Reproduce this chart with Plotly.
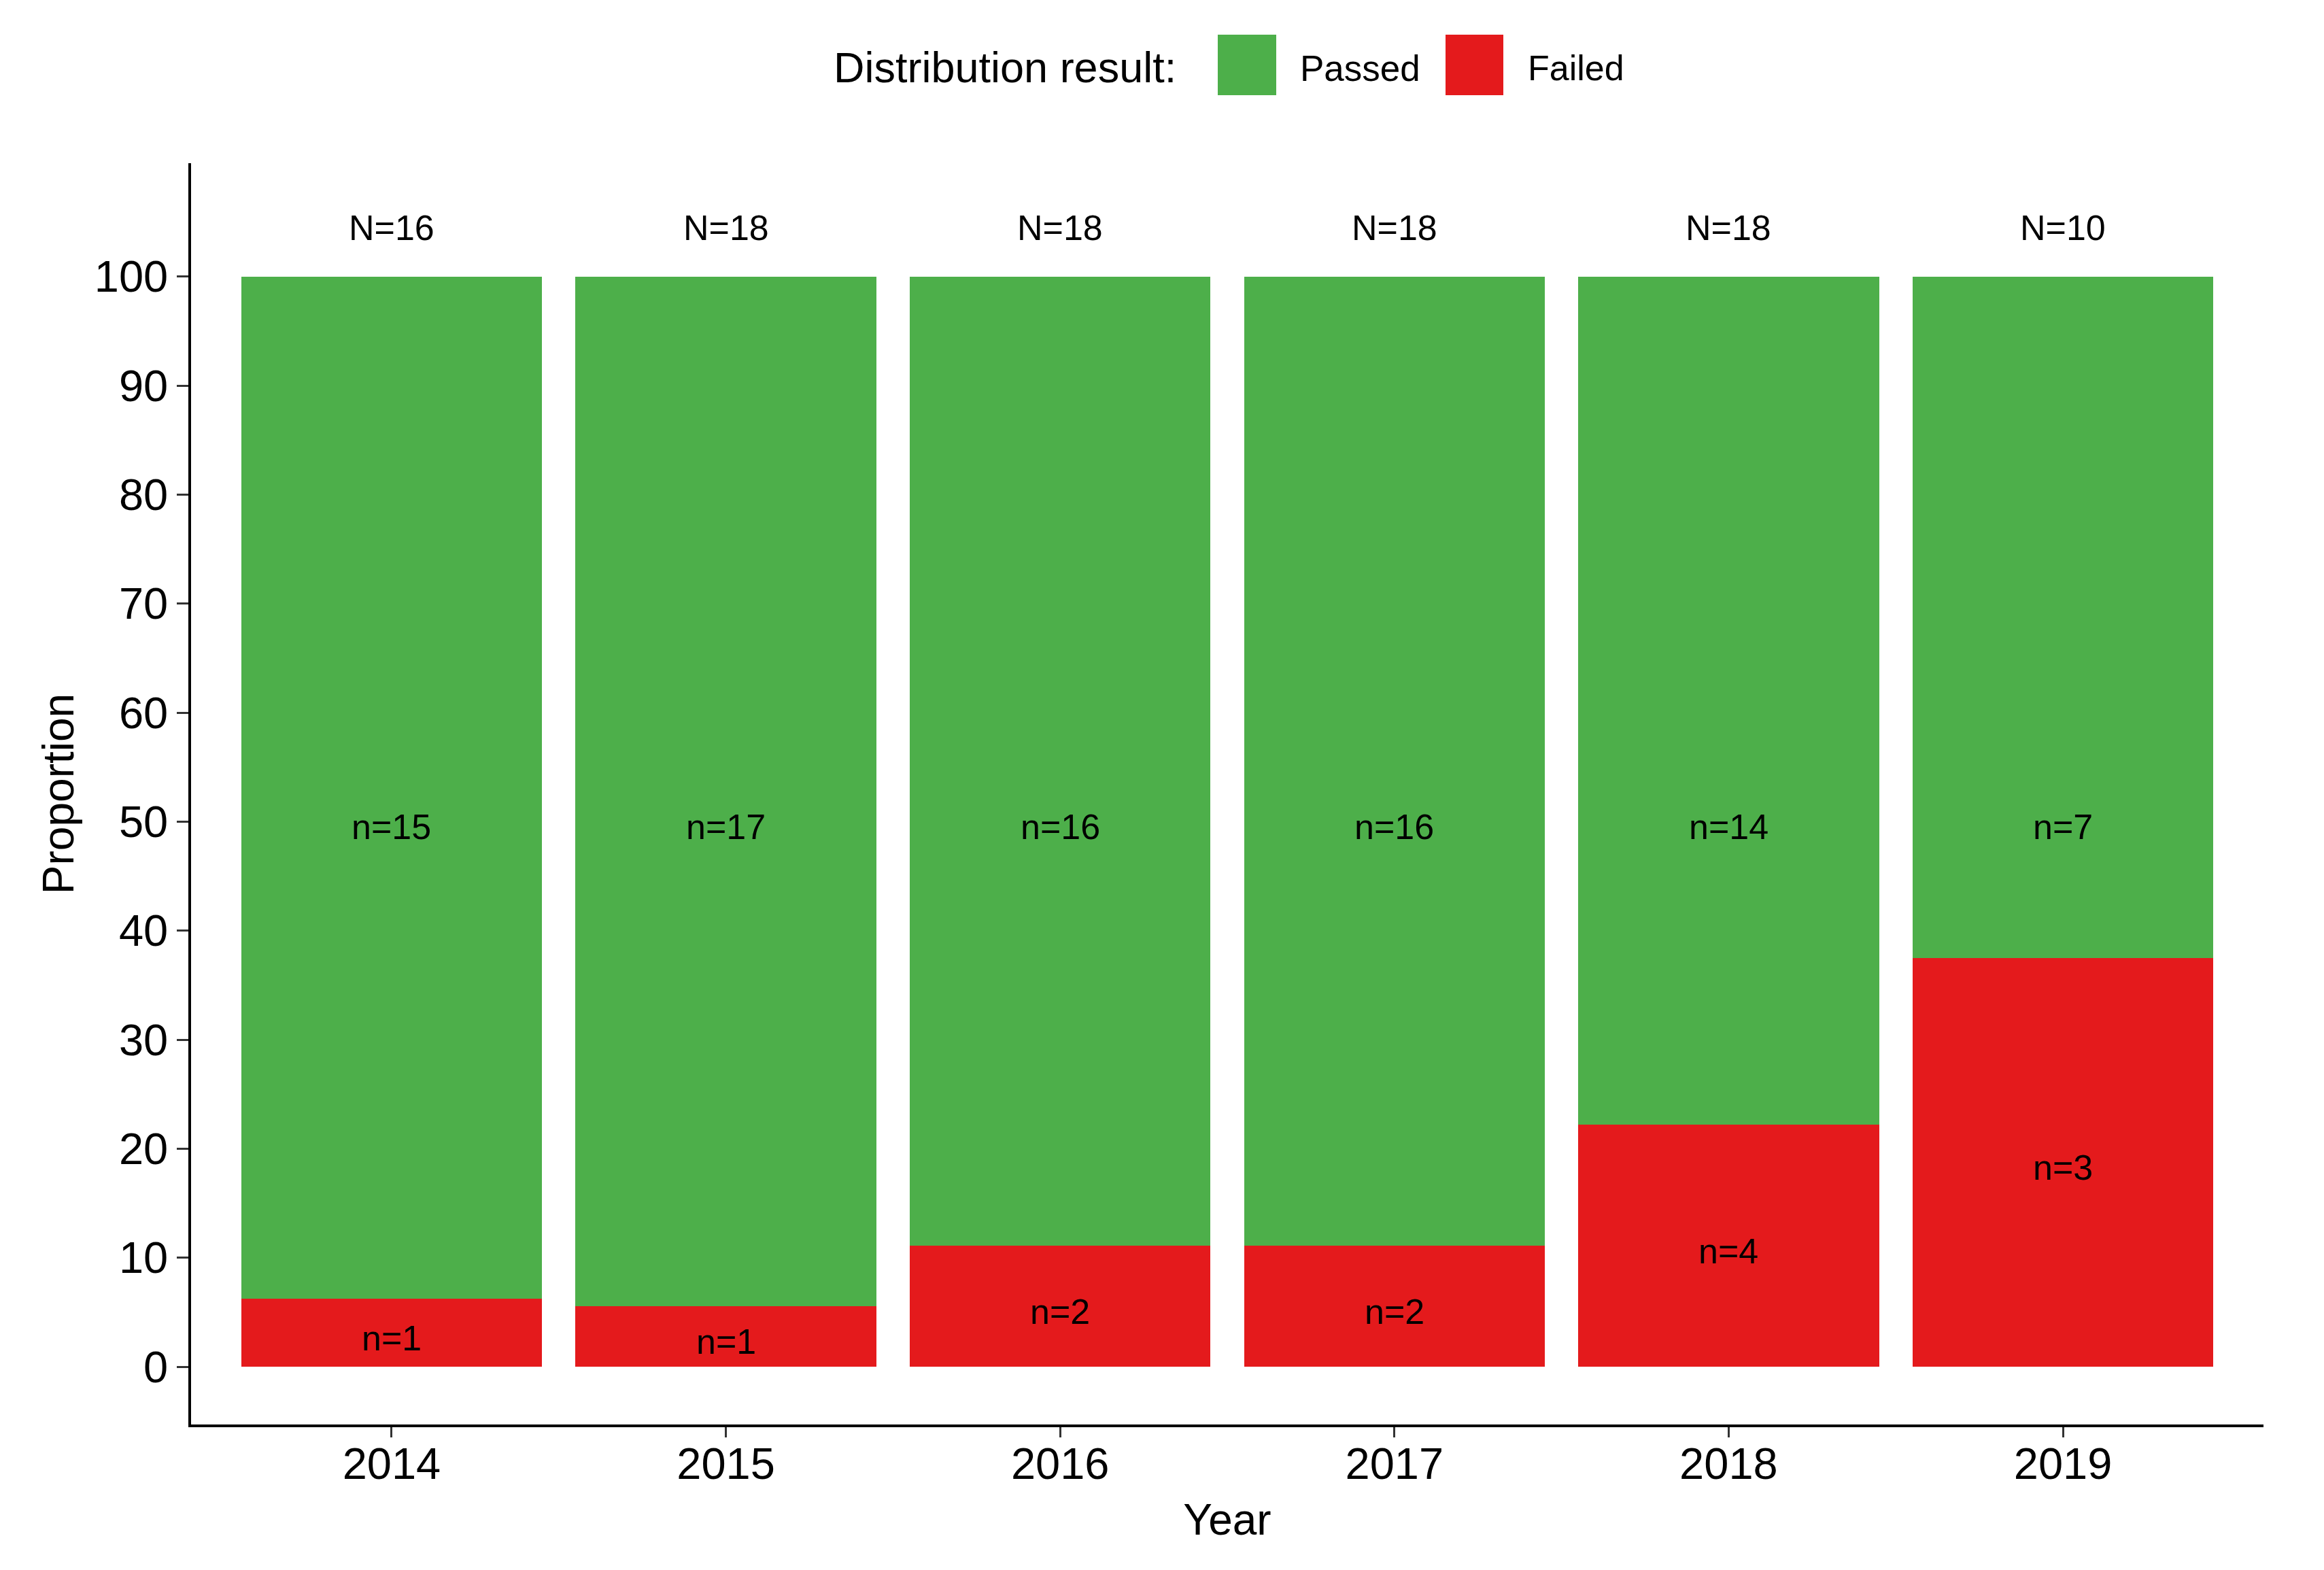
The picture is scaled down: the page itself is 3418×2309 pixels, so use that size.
import plotly.graph_objects as go

# ---- data ----
years = ["2014", "2015", "2016", "2017", "2018", "2019"]
passed_pct = [93.75, 94.44, 88.89, 88.89, 77.78, 62.5]
failed_pct = [6.25, 5.56, 11.11, 11.11, 22.22, 37.5]
n_passed = [15, 17, 16, 16, 14, 7]
n_failed = [1, 1, 2, 2, 4, 3]
n_total = [16, 18, 18, 18, 18, 10]
y_ticks = [0, 10, 20, 30, 40, 50, 60, 70, 80, 90, 100]
label_y_passed = 50
label_y_total = 105

GREEN = "#4DAF4A"
RED = "#E41A1C"
FONT = "Liberation Sans, Arial, sans-serif"

# page body has an 8px margin, so the figure is drawn 8px in from the window edge
OFF = 8
W, H = 3418 - 2 * OFF, 2309 - 2 * OFF
PLOT_X0, PLOT_X1 = 281, 3329      # absolute window pixels of plot area
PLOT_Y0, PLOT_Y1 = 240, 2095
L = PLOT_X0 - OFF
T = PLOT_Y0 - OFF
PW = PLOT_X1 - PLOT_X0
PH = PLOT_Y1 - PLOT_Y0
R = W - L - PW
B = H - T - PH


def px_x(px):
    return (px - PLOT_X0) / PW


def px_y(py):
    return (PLOT_Y1 - py) / PH


fig = go.Figure()
fig.add_trace(go.Bar(x=years, y=failed_pct, name="Failed", marker=dict(color=RED, line=dict(width=0)),
                     showlegend=False, hoverinfo="skip"))
fig.add_trace(go.Bar(x=years, y=passed_pct, name="Passed", marker=dict(color=GREEN, line=dict(width=0)),
                     showlegend=False, hoverinfo="skip"))

# count labels (annotations anchored at data positions; x = category index)
lab_font = dict(family=FONT, size=52, color="black")
for i, (f_pct, nf, npas, nt) in enumerate(zip(failed_pct, n_failed, n_passed, n_total)):
    for yv, txt in ((f_pct / 2, f"n={nf}"), (label_y_passed, f"n={npas}"), (label_y_total, f"N={nt}")):
        fig.add_annotation(x=i, y=yv, xref="x", yref="y", text=txt, showarrow=False,
                           xanchor="center", yanchor="middle", yshift=-8, font=lab_font)

fig.update_layout(
    width=W, height=H,
    margin=dict(l=L, r=R, t=T, b=B),
    paper_bgcolor="white", plot_bgcolor="white",
    barmode="stack", bargap=0.1,
    font=dict(family=FONT, color="black"),
    showlegend=False,
)
fig.update_xaxes(type="category", categoryorder="array", categoryarray=years, range=[-0.6, 5.6],
                 showline=True, linecolor="black", linewidth=3.5,
                 ticks="outside", ticklen=15, tickwidth=3, tickcolor="#333333", ticklabelstandoff=-17,
                 tickfont=dict(size=65, color="black", family=FONT), showgrid=False, zeroline=False,
                 title=dict(text="Year", font=dict(size=64, family=FONT, color="black"), standoff=25))
fig.update_yaxes(range=[-5.3, 110.4], tickvals=y_ticks, showline=True, linecolor="black", linewidth=3.5,
                 ticks="outside", ticklen=17, tickwidth=3, tickcolor="#333333",
                 tickfont=dict(size=65, color="black", family=FONT), showgrid=False, zeroline=False,
                 title=dict(text="Proportion", font=dict(size=64, family=FONT, color="black"), standoff=10))

# legend drawn manually (large keys)
fig.add_annotation(xref="paper", yref="paper", x=px_x(1224), y=px_y(99), xanchor="left", yanchor="middle",
                   text="Distribution result:", showarrow=False, font=dict(size=63, family=FONT, color="black"))
fig.add_shape(type="rect", xref="paper", yref="paper", x0=px_x(1791), x1=px_x(1877), y0=px_y(140), y1=px_y(51),
              fillcolor=GREEN, line=dict(width=0))
fig.add_annotation(xref="paper", yref="paper", x=px_x(1910), y=px_y(100), xanchor="left", yanchor="middle",
                   text="Passed", showarrow=False, font=dict(size=53, family=FONT, color="black"))
fig.add_shape(type="rect", xref="paper", yref="paper", x0=px_x(2126), x1=px_x(2211), y0=px_y(140), y1=px_y(51),
              fillcolor=RED, line=dict(width=0))
fig.add_annotation(xref="paper", yref="paper", x=px_x(2245), y=px_y(100), xanchor="left", yanchor="middle",
                   text="Failed", showarrow=False, font=dict(size=52, family=FONT, color="black"))

fig.write_html("out.html")
